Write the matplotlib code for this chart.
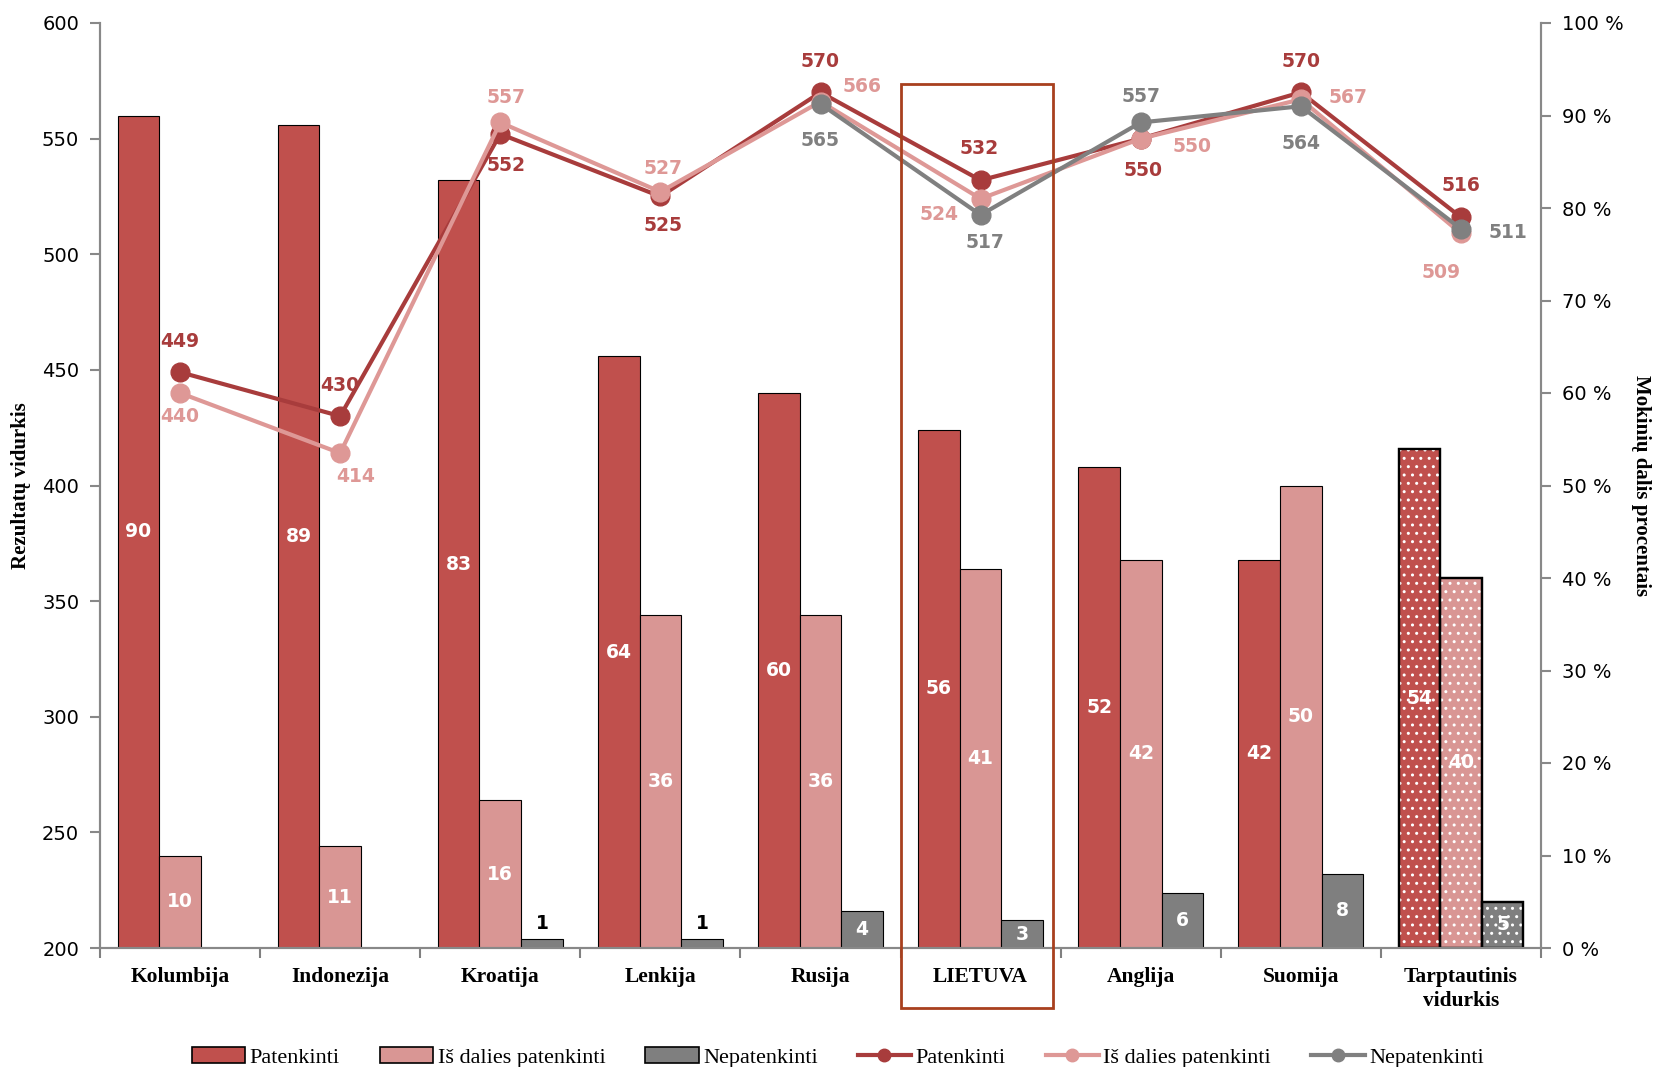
import numpy as np
import matplotlib
matplotlib.use("Agg")
import matplotlib.pyplot as plt
from matplotlib.patches import Patch, Rectangle
from matplotlib.lines import Line2D

categories = ["Kolumbija", "Indonezija", "Kroatija", "Lenkija", "Rusija",
              "LIETUVA", "Anglija", "Suomija", "Tarptautinis\nvidurkis"]

# Student shares (%)
pct_pat = [90, 89, 83, 64, 60, 56, 52, 42, 54]
pct_dal = [10, 11, 16, 36, 36, 41, 42, 50, 40]
pct_nep = [0, 0, 1, 1, 4, 3, 6, 8, 5]

# Mean scores
score_pat = [449, 430, 552, 525, 570, 532, 550, 570, 516]
score_dal = [440, 414, 557, 527, 566, 524, 550, 567, 509]
score_nep = [np.nan, np.nan, np.nan, np.nan, 565, 517, 557, 564, 511]

series_names = ["Patenkinti", "Iš dalies patenkinti", "Nepatenkinti"]

# styles
bar_cols = ["#C0504D", "#D99694", "#7F7F7F"]
line_cols = ["#A83C3C", "#DE9896", "#808080"]
frame_col = "#A8401E"

# label offsets (points) for line labels
off_pat = [(0, 22), (0, 22), (4, -23), (2, -21), (0, 22), (-1, 23), (2, -23), (0, 22), (0, 23)]
off_dal = [(0, -17), (11, -17), (4, 18), (2, 17), (30, 11), (-30, -11), (37, -6), (34, 1), (-14, -28)]
off_nep = [None, None, None, None, (0, -26), (3, -20), (0, 19), (0, -27), (34, -3)]

W, H = 1659, 1067
fig = plt.figure(figsize=(W / 100, H / 100), dpi=100)
ax = fig.add_axes([100 / W, 1 - 948 / H, (1541 - 100) / W, (948 - 23) / H])
ax2 = ax.twinx()
ax.set_zorder(ax2.get_zorder() + 1)
ax.patch.set_visible(False)

x = np.arange(len(categories))
bw = 0.26
num_font = "DejaVu Sans"
serif = "Liberation Serif"

for i, (vals, col) in enumerate(zip([pct_pat, pct_dal, pct_nep], bar_cols)):
    xs = x + (i - 1) * bw
    for j, (xx, v) in enumerate(zip(xs, vals)):
        if v <= 0:
            continue
        last = j == len(categories) - 1
        ax2.bar(xx, v, bw, color=col, edgecolor="black",
                linewidth=1.6 if last else 0.8, zorder=2)
        if last:
            ax2.bar(xx, v, bw, facecolor="none", edgecolor="white",
                    hatch="..", linewidth=0, zorder=3)
            ax2.bar(xx, v, bw, fill=False, edgecolor="black", linewidth=1.6, zorder=4)
        if v <= 1:
            ax2.annotate(str(v), (xx, v), xytext=(0, 4), textcoords="offset points",
                         ha="center", va="bottom", fontsize=13.5, fontweight="bold",
                         color="black", family=num_font, zorder=6)
        else:
            ax2.text(xx, v / 2, str(v), ha="center", va="center", fontsize=13.5,
                     fontweight="bold", color="white", family=num_font, zorder=6)

for vals, col, offs in zip([score_pat, score_dal, score_nep], line_cols,
                           [off_pat, off_dal, off_nep]):
    ax.plot(x, vals, color=col, lw=3, marker="o", markersize=13.5, zorder=5)
    for xx, v, o in zip(x, vals, offs):
        if np.isnan(v) or o is None:
            continue
        ax.annotate(str(int(v)), (xx, v), xytext=o, textcoords="offset points",
                    ha="center", va="center", fontsize=13.5, fontweight="bold",
                    color=col, family=num_font, zorder=7)

ax.set_xlim(-0.5, len(categories) - 0.5)
ax.set_ylim(200, 600)
ax2.set_ylim(0, 100)
ax.set_yticks(np.arange(200, 601, 50))
ax2.set_yticks(np.arange(0, 101, 10))
ax2.set_yticklabels([f"{t} %" for t in range(0, 101, 10)])

ax.set_xticks(x)
ax.set_xticklabels(categories, family=serif, fontweight="bold", fontsize=15.5,
                   linespacing=1.25)
ax.tick_params(axis="x", length=0, pad=14)
ax.set_xticks(np.arange(-0.5, len(categories), 1.0), minor=True)
ax.tick_params(axis="x", which="minor", length=7, color="#808080", width=1.5, direction="out")

for a in (ax, ax2):
    a.spines["top"].set_visible(False)
    for s in ["left", "right", "bottom"]:
        a.spines[s].set_color("#888888")
        a.spines[s].set_linewidth(1.5)
ax.tick_params(axis="y", length=7, color="#888888", width=1.5, labelsize=14, pad=8)
ax2.tick_params(axis="y", length=7, color="#888888", width=1.5, labelsize=14, pad=8)
for lab in ax.get_yticklabels() + ax2.get_yticklabels():
    lab.set_family(num_font)

ax.set_ylabel("Rezultatų vidurkis", family=serif, fontweight="bold", fontsize=15, labelpad=8)
ax2.set_ylabel("Mokinių dalis procentais", family=serif, fontweight="bold", fontsize=15,
               rotation=270, labelpad=20)

# highlight frame around LIETUVA
rect = Rectangle((5 - 0.5, 174), 0.95, 573.5 - 174, transform=ax.transData,
                 fill=False, edgecolor=frame_col, linewidth=2, clip_on=False, zorder=10)
ax.add_patch(rect)

handles = [Patch(facecolor=c, edgecolor="black", linewidth=1.2, label=n)
           for c, n in zip(bar_cols, series_names)]
handles += [Line2D([], [], color=c, lw=3, marker="o", markersize=9, label=n)
            for c, n in zip(line_cols, series_names)]
fig.legend(handles=handles, loc="center", bbox_to_anchor=(0.505, 0.009), ncol=6,
           frameon=False, prop={"family": serif, "size": 16}, handlelength=2.4,
           columnspacing=1.8, handletextpad=0.2)

fig.savefig("out.png", dpi=100)
